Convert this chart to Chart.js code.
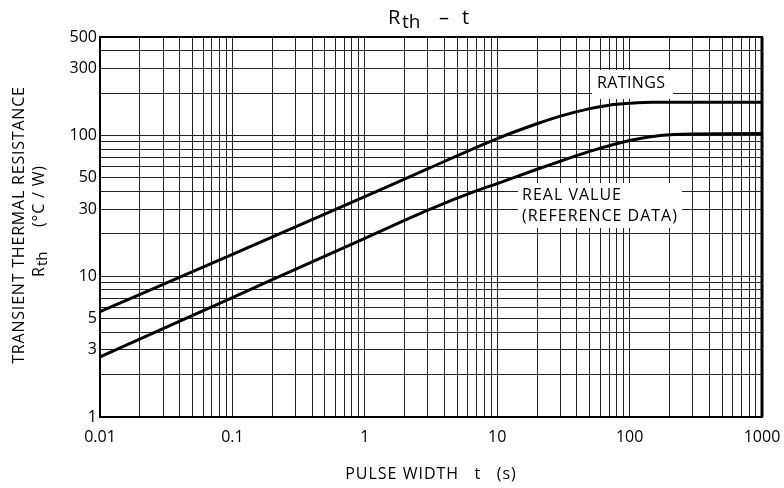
<!DOCTYPE html>
<html>
<head>
<meta charset="utf-8">
<script src="https://cdn.jsdelivr.net/npm/chart.js@4/dist/chart.umd.min.js"></script>
<style>
  html, body { margin: 0; background: #fff; }
  #wrap { width: 784px; height: 488px; }
</style>
</head>
<body>
<div id="wrap"><canvas id="c"></canvas></div>
<script>
// pulse width t (s) and Rth (°C/W)
var ratingsT = [0.01, 0.1, 1, 3, 10, 20, 30, 50, 70, 100, 150, 1000];
var ratingsR = [5.6, 14.3, 36.8, 58, 95, 121, 137, 155, 164, 169, 172, 172];
var realT = [0.01, 0.1, 1, 3, 7, 10, 20, 30, 50, 100, 170, 300, 1000];
var realR = [2.67, 7.05, 18.6, 29.5, 40.5, 45.5, 57.5, 65.5, 77, 92, 100, 102.5, 103];

var xLabels = [0.01, 0.1, 1, 10, 100, 1000];
var yLabels = [1, 3, 5, 10, 30, 50, 100, 300, 500];

var FONT = '"Open Sans", "DejaVu Sans", sans-serif';

function logGrid(min, max) {
    var out = [];
    for (var d = min; d < max * 1.0001; d *= 10) {
        for (var k = 1; k <= 9; k++) {
            var v = +(d * k).toPrecision(3);
            if (v <= max * 1.0001) out.push(v);
        }
    }
    return out;
}
function pts(xs, ys) {
    return xs.map(function(x, i) { return { x: x, y: ys[i] }; });
}
function isLabel(list, v) {
    return list.some(function(l) { return Math.abs(l - v) / l < 1e-6; });
}

var textPlugin = {
    id: 'texts',
    afterDatasetsDraw: function(chart) {
        var ctx = chart.ctx, a = chart.chartArea;
        ctx.save();
        // frame
        ctx.strokeStyle = '#000';
        ctx.lineWidth = 2;
        ctx.strokeRect(a.left, a.top, a.right - a.left, a.bottom - a.top);
        ctx.lineWidth = 3;
        ctx.beginPath();
        ctx.moveTo(a.right, a.top);
        ctx.lineTo(a.right, a.bottom);
        ctx.stroke();

        // curve labels on white boxes
        ctx.fillStyle = '#fff';
        ctx.fillRect(592, 70, 81, 29);
        ctx.fillRect(518, 183, 164, 45);
        ctx.fillStyle = '#000';
        ctx.font = '16px ' + FONT;
        ctx.textBaseline = 'middle';
        ctx.textAlign = 'left';
        ctx.letterSpacing = '0.4px';
        ctx.fillText('RATINGS', 597, 83);
        ctx.letterSpacing = '1px';
        ctx.fillText('REAL VALUE', 522, 195);
        ctx.fillText('(REFERENCE DATA)', 522, 216);

        // title  Rth - t
        ctx.letterSpacing = '0px';
        ctx.font = '20px ' + FONT;
        ctx.textBaseline = 'alphabetic';
        ctx.fillText('R', 388, 24);
        ctx.font = '19px ' + FONT;
        ctx.fillText('th', 402, 28);
        ctx.font = '20px ' + FONT;
        ctx.fillText('\u2013', 439, 24);
        ctx.fillText('t', 462, 24);

        // x axis title
        ctx.font = '16px ' + FONT;
        ctx.letterSpacing = '1px';
        ctx.textAlign = 'center';
        ctx.textBaseline = 'middle';
        ctx.fillText('PULSE WIDTH   t   (s)', 431, 474);

        // y axis title
        ctx.translate(19, 225);
        ctx.rotate(-Math.PI / 2);
        ctx.letterSpacing = '0.8px';
        ctx.fillText('TRANSIENT THERMAL RESISTANCE', 0, 0);
        ctx.translate(0, 20);
        ctx.textAlign = 'left';
        ctx.letterSpacing = '0px';
        ctx.fillText('R', -52, 0);
        ctx.font = '15px ' + FONT;
        ctx.fillText('th', -41, 4);
        ctx.font = '16px ' + FONT;
        ctx.letterSpacing = '0.8px';
        ctx.fillText('(\u00B0C / W)', -2, 0);
        ctx.restore();
    }
};

var ctx = document.getElementById('c').getContext('2d');
var chart = new Chart(ctx, {
    type: 'line',
    data: {
        datasets: [{
            label: 'RATINGS',
            data: pts(ratingsT, ratingsR),
            borderColor: '#000',
            borderWidth: 3,
            pointRadius: 0,
            cubicInterpolationMode: 'monotone',
            fill: false
        }, {
            label: 'REAL VALUE (REFERENCE DATA)',
            data: pts(realT, realR),
            borderColor: '#000',
            borderWidth: 3,
            pointRadius: 0,
            cubicInterpolationMode: 'monotone',
            fill: false
        }]
    },
    options: {
        responsive: true,
        maintainAspectRatio: false,
        animation: false,
        devicePixelRatio: 1,
        layout: { padding: { top: 37, right: 22, left: 0, bottom: 0 } },
        plugins: {
            legend: { display: false },
            title: { display: false },
            tooltip: { enabled: false }
        },
        scales: {
            x: {
                type: 'logarithmic',
                min: 0.01,
                max: 1000,
                afterBuildTicks: function(s) {
                    s.ticks = logGrid(0.01, 1000).map(function(v) { return { value: v }; });
                },
                afterFit: function(s) {
                    s.height = 71;
                    s.paddingLeft = 0;
                    s.paddingRight = 0;
                },
                grid: { color: '#222', lineWidth: 1, drawTicks: false },
                border: { display: true, color: '#000', width: 2 },
                ticks: {
                    autoSkip: false,
                    maxRotation: 0,
                    padding: 11,
                    color: '#000',
                    font: { family: FONT, size: 16 },
                    callback: function(v) { return isLabel(xLabels, v) ? String(+v.toPrecision(3)) : ''; }
                }
            },
            y: {
                type: 'logarithmic',
                min: 1,
                max: 500,
                afterBuildTicks: function(s) {
                    s.ticks = logGrid(1, 500).map(function(v) { return { value: v }; });
                },
                afterFit: function(s) {
                    s.width = 100;
                    s.paddingTop = 0;
                    s.paddingBottom = 0;
                },
                grid: { color: '#222', lineWidth: 1, drawTicks: false },
                border: { display: true, color: '#000', width: 2 },
                ticks: {
                    autoSkip: false,
                    padding: 3,
                    color: '#000',
                    font: { family: FONT, size: 16 },
                    callback: function(v) { return isLabel(yLabels, v) ? String(v) : ''; }
                }
            }
        }
    },
    plugins: [textPlugin]
});
</script>
</body>
</html>
